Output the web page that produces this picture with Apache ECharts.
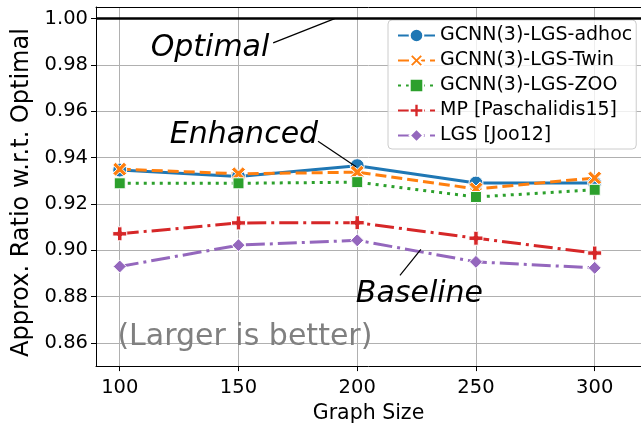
<!DOCTYPE html>
<html>
<head>
<meta charset="utf-8">
<script src="https://cdn.jsdelivr.net/npm/echarts@6/dist/echarts.min.js"></script>
<style>
  html, body { margin: 0; padding: 0; background: #ffffff; }
  #chart { width: 641px; height: 429px; }
</style>
</head>
<body>
<div id="chart"></div>
<script>
// Graph sizes on the x axis
const graphSizes = [100, 150, 200, 250, 300];

// Approximation ratio w.r.t. the optimal solution, one array per method
const gcnnAdhoc = [0.9346, 0.9318, 0.9365, 0.9290, 0.9290];
const gcnnTwin  = [0.9350, 0.9330, 0.9337, 0.9265, 0.9312];
const gcnnZoo   = [0.9289, 0.9289, 0.9294, 0.9230, 0.9261];
const mpPaschalidis = [0.9071, 0.9118, 0.9119, 0.9052, 0.8988];
const lgsJoo    = [0.8930, 0.9022, 0.9043, 0.8950, 0.8924];

const optimalRatio = 1.0;

// Tick labels
const xTicks = [100, 150, 200, 250, 300];
const yTicks = [0.86, 0.88, 0.90, 0.92, 0.94, 0.96, 0.98, 1.00];

const FONT = 'DejaVu Sans';

const X_SHAPE = 'path://M0,0.2L0.2,0L0.5,0.3L0.8,0L1,0.2L0.7,0.5L1,0.8L0.8,1L0.5,0.7L0.2,1L0,0.8L0.3,0.5Z';
const PLUS_SHAPE = 'path://M0.34,0H0.66V0.34H1V0.66H0.66V1H0.34V0.66H0V0.34H0.34Z';

function pairs(values) {
  return graphSizes.map((g, i) => [g, values[i]]);
}

function lineSeries(name, values, color, dash, symbol, size) {
  return {
    name: name,
    type: 'line',
    data: pairs(values),
    symbol: symbol,
    symbolSize: size,
    showSymbol: true,
    lineStyle: { color: color, width: 3, type: dash, cap: 'butt' },
    itemStyle: { color: color, borderColor: '#ffffff', borderWidth: 1 },
    emphasis: { disabled: true },
    animation: false,
    z: 3
  };
}

const chart = echarts.init(document.getElementById('chart'), null, { renderer: 'canvas' });

const series = [
  lineSeries('GCNN(3)-LGS-adhoc', gcnnAdhoc, '#1f77b4', 'solid', 'circle', 14),
  lineSeries('GCNN(3)-LGS-Twin', gcnnTwin, '#ff7f0e', [11, 5], X_SHAPE, 14),
  lineSeries('GCNN(3)-LGS-ZOO', gcnnZoo, '#2ca02c', [3, 5], 'rect', 11),
  lineSeries('MP [Paschalidis15]', mpPaschalidis, '#d62728', [19, 5, 3, 5], PLUS_SHAPE, 14),
  lineSeries('LGS [Joo12]', lgsJoo, '#9467bd', [19, 5, 3, 5], 'diamond', 13)
];

// Optimal reference line
series[0].markLine = {
  silent: true,
  symbol: 'none',
  label: { show: false },
  lineStyle: { color: '#000000', width: 2.5, type: 'solid' },
  data: [{ yAxis: optimalRatio }],
  animation: false
};

chart.setOption({
  animation: false,
  backgroundColor: '#ffffff',
  textStyle: { fontFamily: FONT },
  grid: { left: 96, right: 0, top: 7, bottom: 57 },
  legend: {
    left: 388, top: 20,
    orient: 'vertical',
    itemWidth: 37, itemHeight: 17, itemGap: 6,
    padding: [6, 4, 4, 9],
    backgroundColor: 'rgba(255,255,255,0.8)',
    borderColor: '#cccccc', borderWidth: 1, borderRadius: 4,
    textStyle: { fontFamily: FONT, fontSize: 19, color: '#000000' },
    data: series.map(s => s.name)
  },
  xAxis: [{
    type: 'value',
    min: 90, max: 319.5,
    name: 'Graph Size',
    nameLocation: 'middle',
    nameGap: 27,
    nameTextStyle: { fontFamily: FONT, fontSize: 20.5, color: '#000000' },
    axisLine: { show: true, lineStyle: { color: '#000000', width: 1 } },
    axisTick: { show: true, inside: false, length: 5, lineStyle: { color: '#000000' }, customValues: xTicks },
    axisLabel: { customValues: xTicks, margin: 12, fontFamily: FONT, fontSize: 19.5, color: '#000000' },
    splitLine: { show: true, lineStyle: { color: '#b0b0b0', width: 1 } }
  }, {
    // top spine of the plot frame
    type: 'value', position: 'top',
    min: 90, max: 319.5,
    axisLine: { show: true, lineStyle: { color: '#000000', width: 1 } },
    axisTick: { show: false }, axisLabel: { show: false }, splitLine: { show: false }
  }],
  yAxis: {
    type: 'value',
    min: 0.85, max: 1.005,
    name: 'Approx. Ratio w.r.t. Optimal',
    nameLocation: 'middle',
    nameGap: 62,
    nameTextStyle: { fontFamily: FONT, fontSize: 24, color: '#000000', padding: [0, 12, 0, 0] },
    axisLine: { show: true, lineStyle: { color: '#000000', width: 1 } },
    axisTick: { show: true, inside: false, length: 5, lineStyle: { color: '#000000' }, customValues: yTicks },
    axisLabel: {
      customValues: yTicks, margin: 8, fontFamily: FONT, fontSize: 19.5, color: '#000000',
      formatter: v => v.toFixed(2)
    },
    splitLine: { show: true, lineStyle: { color: '#b0b0b0', width: 1 } }
  },
  series: series
});

// Text annotations anchored in data coordinates
const notes = [
  { text: 'Optimal', at: [138.0, 0.98720], from: [164.6, 0.98950], to: [190.5, optimalRatio], italic: true, size: 30, color: '#000000' },
  { text: 'Enhanced', at: [152.3, 0.94980], from: [183.5, 0.94700], to: [199.5, gcnnAdhoc[2] - 0.0005], italic: true, size: 30, color: '#000000' },
  { text: 'Baseline', at: [226.2, 0.88100], from: [218.0, 0.88920], to: [226.8, 0.90040], italic: true, size: 30, color: '#000000' },
  { text: '(Larger is better)', at: [152.7, 0.86231], italic: false, size: 30, color: '#808080' }
];

const graphics = [];
notes.forEach(n => {
  const p = chart.convertToPixel({ gridIndex: 0 }, n.at);
  graphics.push({
    type: 'text', x: p[0], y: p[1], z: 10, silent: true,
    style: {
      text: n.text, fill: n.color, fontFamily: FONT,
      fontSize: n.size, fontStyle: n.italic ? 'italic' : 'normal',
      align: 'center', verticalAlign: 'middle'
    }
  });
  if (n.from) {
    const a = chart.convertToPixel({ gridIndex: 0 }, n.from);
    const b = chart.convertToPixel({ gridIndex: 0 }, n.to);
    graphics.push({
      type: 'line', z: 10, silent: true,
      shape: { x1: a[0], y1: a[1], x2: b[0], y2: b[1] },
      style: { stroke: '#000000', lineWidth: 1.2 }
    });
  }
});
chart.setOption({ graphic: graphics });
</script>
</body>
</html>
